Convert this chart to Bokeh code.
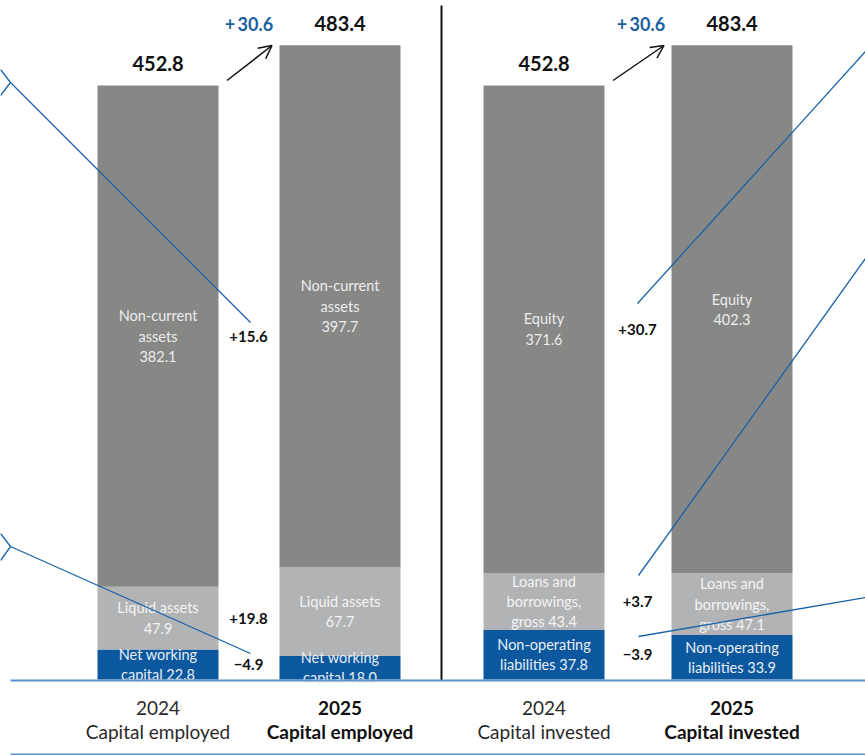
from bokeh.plotting import figure
from bokeh.models import Range1d, Arrow, OpenHead, ColumnDataSource
from bokeh.core.properties import value
from bokeh.embed import file_html
from bokeh.resources import INLINE

# ---------------- data ----------------
years = ["2024", "2025"]
panel_titles = ["Capital employed", "Capital invested"]

ce_2024 = [22.8, 47.9, 382.1]   # net working capital, liquid assets, non-current assets
ce_2025 = [18.0, 67.7, 397.7]
ce_labels = ["Net working\ncapital {}", "Liquid assets\n{}", "Non-current\nassets\n{}"]
ce_totals = [452.8, 483.4]
ce_changes = [-4.9, 19.8, 15.6]

ci_2024 = [37.8, 43.4, 371.6]   # non-operating liabilities, loans, equity
ci_2025 = [33.9, 47.1, 402.3]
ci_labels = ["Non-operating\nliabilities {}", "Loans and\nborrowings,\ngross {}", "Equity\n{}"]
ci_totals = [452.8, 483.4]
ci_changes = [-3.9, 3.7, 30.7]

total_change = [30.6, 30.6]

# ---------------- styling / layout ----------------
W, H = 865, 755
BASE_PX = 679
PX_PER_UNIT = 1.312
seg_colors = ["#0b589f", "#b2b3b5", "#878786"]
seg_text_colors = ["#e9eef5", "#f4f4f4", "#ececec"]
FONT = "Lato"
BAR_W = 121
panel_x = [[157.5, 339.5], [543.5, 731.5]]
change_x = [248, 637]


def py(pixel):
    """convert a page pixel row to the data unit of the y scale (decorations only)"""
    return (BASE_PX - pixel) / PX_PER_UNIT


p = figure(width=W, height=H, output_backend="svg", toolbar_location=None,
           x_range=Range1d(0, W), y_range=Range1d(py(H), py(0)),
           x_axis_type=None, y_axis_type=None, min_border=0,
           outline_line_color=None, background_fill_color="white",
           border_fill_color="white")
p.xgrid.visible = False
p.ygrid.visible = False


def fmt_change(v, sep=""):
    return ("+" if v >= 0 else "\u2212") + sep + f"{abs(v):.1f}"


panels = [(ce_2024, ce_2025, ce_labels, ce_totals, ce_changes),
          (ci_2024, ci_2025, ci_labels, ci_totals, ci_changes)]

for pi, (v24, v25, labs, totals, changes) in enumerate(panels):
    for yi, vals in enumerate([v24, v25]):
        xs = panel_x[pi][yi]
        bottoms, tops = [], []
        acc = 0.0
        for v in vals:
            bottoms.append(acc)
            acc += v
            tops.append(acc)
        # top of the last segment is the reported total
        tops[-1] = totals[yi]
        src = ColumnDataSource(dict(
            x=[xs] * 3, bottom=bottoms, top=tops, color=seg_colors,
            mid=[(b + t) / 2 for b, t in zip(bottoms, tops)],
            label=[l.format(f"{v:.1f}") for l, v in zip(labs, vals)],
            tcolor=seg_text_colors))
        p.vbar(x="x", bottom="bottom", top="top", width=BAR_W, color="color",
               line_color=None, source=src)
        p.text(x="x", y="mid", text="label", source=src, text_align="center",
               text_baseline="middle", text_font=value(FONT), text_font_size="14.5px",
               text_color="tcolor", text_line_height=1.2)
        # total above the bar
        p.text(x=[xs], y=[totals[yi]], text=[f"{totals[yi]:.1f}"], y_offset=-22,
               text_align="center", text_baseline="middle", text_font=value(FONT),
               text_font_size="20px", text_font_style="bold", text_color="#111111")
        # category labels below
        style = "normal" if yi == 0 else "bold"
        col = "#2a2a2a" if yi == 0 else "#111111"
        p.text(x=[xs], y=[0], text=[years[yi]], y_offset=28, text_align="center",
               text_baseline="middle", text_font=value(FONT), text_font_size="19px",
               text_color=col, text_font_style=style)
        p.text(x=[xs], y=[0], text=[panel_titles[pi]], y_offset=52, text_align="center",
               text_baseline="middle", text_font=value(FONT), text_font_size="19px",
               text_color=col, text_font_style=style)

    # change labels at 2024 segment centres
    mids, acc = [], 0.0
    for v in v24:
        mids.append(acc + v / 2)
        acc += v
    p.text(x=[change_x[pi]] * 3, y=mids, text=[fmt_change(c) for c in changes],
           text_align="center", text_baseline="middle", text_font=value(FONT),
           text_font_size="15px", text_font_style="bold", text_color="#111111")

    # total change + arrow
    x24, x25 = panel_x[pi]
    p.text(x=[x25 - 91], y=[totals[1]], y_offset=-21,
           text=[fmt_change(total_change[pi], "\u2009")],
           text_align="center", text_baseline="middle", text_font=value(FONT),
           text_font_size="18px", text_font_style="bold", text_color="#1b5fa3")
    p.add_layout(Arrow(end=OpenHead(size=13, line_width=1.5, line_color="#111111"),
                       x_start=x24 + 69, y_start=py(80), x_end=x25 - 68, y_end=py(45),
                       line_width=1.5, line_color="#111111"))

# divider and rules
p.line(x=[441, 441], y=[py(5), py(680)], line_color="#111111", line_width=2)
p.line(x=[10, W], y=[py(680), py(680)], line_color="#5b8fc7", line_width=2)
p.line(x=[10, W], y=[py(754), py(754)], line_color="#5b8fc7", line_width=2)

# connector lines from neighbouring graphics
LC = "#1a62a8"
p.multi_line(xs=[[0, 10, 0], [0, 10, 0]],
             ys=[[py(69), py(82), py(95)], [py(533), py(546), py(560)]],
             line_color=LC, line_width=1.3)
p.multi_line(xs=[[10, 250], [10, 250], [W, 637], [W, 638], [W, 638]],
             ys=[[py(82), py(322)], [py(546), py(653)], [py(51), py(303)],
                 [py(258), py(575)], [py(597), py(636)]],
             line_color=LC, line_width=1.3)

open("out.html", "w").write(file_html(p, INLINE))
